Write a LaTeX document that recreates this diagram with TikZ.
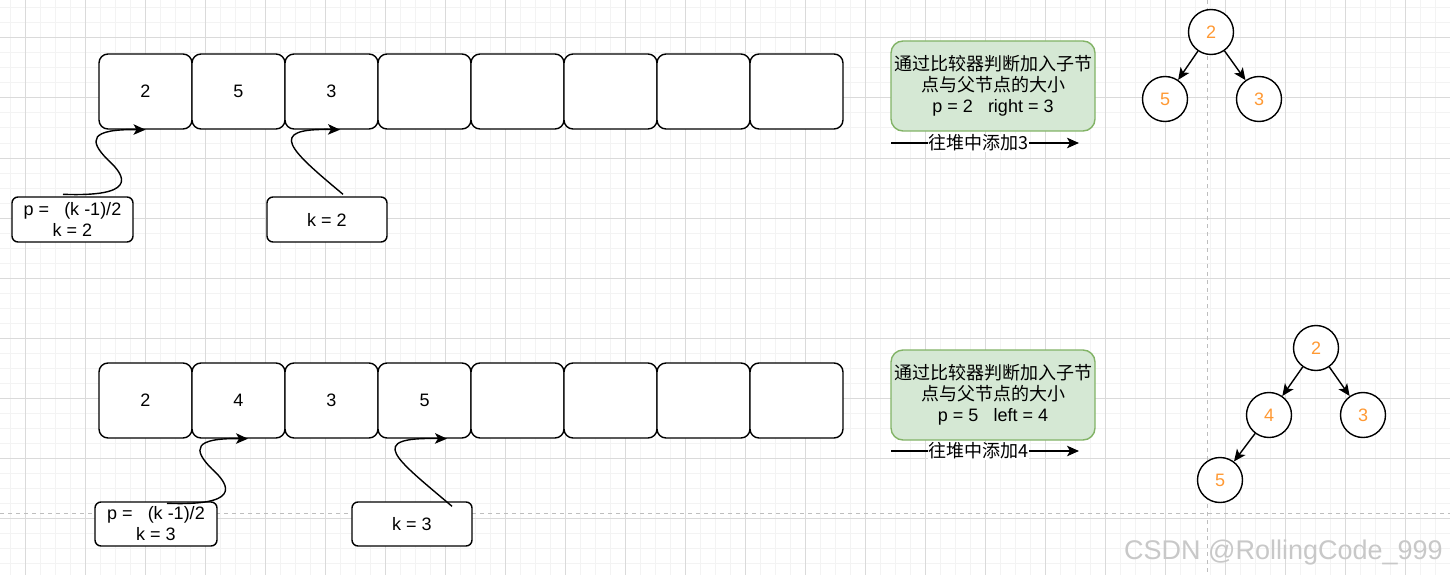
\documentclass[tikz,border=0pt]{standalone}
\usepackage{fontspec}
\setmainfont{Liberation Sans}
\newfontfamily\cjk{Noto Sans CJK SC}
\usetikzlibrary{arrows.meta}
\definecolor{gridminor}{RGB}{243,243,243}
\definecolor{gridmajor}{RGB}{218,218,218}
\definecolor{pagedash}{RGB}{190,190,190}
\definecolor{gfill}{HTML}{D5E8D4}
\definecolor{gdraw}{HTML}{82B366}
\definecolor{numorange}{RGB}{255,153,51}
\definecolor{wmgray}{RGB}{200,200,200}
\begin{document}
\begin{tikzpicture}[x=1pt,y=-1pt,
  every node/.style={font=\fontsize{18}{21}\selectfont, inner sep=0pt},
  cell/.style={draw, line width=1.4pt, fill=white, rounded corners=9pt, minimum width=93pt, minimum height=75pt},
  labelbox/.style={draw, line width=1.4pt, fill=white, rounded corners=6pt, align=center},
  notebox/.style={draw=gdraw, line width=1.4pt, fill=gfill, rounded corners=12pt, minimum width=204pt, minimum height=90pt, align=center},
  heapnode/.style={circle, draw, line width=1.4pt, fill=white, minimum size=45pt, text=numorange},
  link/.style={line width=1.4pt, -{Stealth[length=12pt,width=10.5pt,inset=3pt]}},
  treelink/.style={line width=1.4pt, -{Stealth[length=12pt,width=10.5pt,inset=3pt]}},
  minorline/.style={draw=gridminor, line width=1pt},
  majorline/.style={draw=gridmajor, line width=1pt},
  pageline/.style={draw=pagedash, line width=1pt, dash pattern=on 4pt off 4pt},
]
\useasboundingbox (0,0) rectangle (1450,575);
\fill[white] (0,0) rectangle (1450,575);
% grid
\foreach \x in {10,25,...,1445} \draw[minorline] (\x,0) -- (\x,575);
\foreach \y in {8,23,...,575} \draw[minorline] (0,\y) -- (1450,\y);
\foreach \x in {25,85,...,1445} \draw[majorline] (\x,0) -- (\x,575);
\foreach \y in {38,98,...,575} \draw[majorline] (0,\y) -- (1450,\y);
% page break lines
\draw[pageline] (1207,0) -- (1207,575);
\draw[pageline] (0,513) -- (1450,513);

% top array
\foreach \i/\v in {1/2,2/5,3/3,4/,5/,6/,7/,8/}
  \node[cell] (t\i) at ({145.5+93*(\i-1)},91.5) {\v};
% bottom array
\foreach \i/\v in {1/2,2/4,3/3,4/5,5/,6/,7/,8/}
  \node[cell] (b\i) at ({145.5+93*(\i-1)},400.5) {\v};

% label boxes
\node[labelbox, minimum width=121pt, minimum height=45pt] (lp1) at (72.5,219.5) {p =\ \ \ (k -1)/2\\k = 2};
\node[labelbox, minimum width=120pt, minimum height=45pt] (lk1) at (327,219.5) {k = 2};
\node[labelbox, minimum width=122pt, minimum height=44pt] (lp2) at (156,524) {p =\ \ \ (k -1)/2\\k = 3};
\node[labelbox, minimum width=120pt, minimum height=44pt] (lk2) at (412,524) {k = 3};

% curved pointers
\coordinate (s1) at ([xshift=-9.5pt,yshift=2pt]lp1.north);
\draw[link] (s1) .. controls (135,197) and (128,178) .. (108,160)
  .. controls (88,140) and (90,129) .. (t1.south);
\coordinate (s2) at ([xshift=16pt,yshift=2pt]lk1.north);
\draw[link] (s2) .. controls (290,150) and (265,128) .. ([xshift=8.5pt]t3.south);
\coordinate (s3) at ([xshift=11pt,yshift=-2pt]lp2.north);
\draw[link] (s3) .. controls (239,506) and (232,487) .. (212,469)
  .. controls (192,449) and (194,438) .. ([xshift=9.5pt]b2.south);
\coordinate (s4) at ([xshift=40pt,yshift=-5pt]lk2.north);
\draw[link] (s4) .. controls (395,458) and (365,437) .. ([xshift=22.5pt]b4.south);

% notes
\node[notebox] (g1) at (993,86) {{\cjk 通过比较器判断加入子节}\\{\cjk 点与父节点的大小}\\p = 2\ \ \ right = 3};
\node[notebox] (g2) at (993,395) {{\cjk 通过比较器判断加入子节}\\{\cjk 点与父节点的大小}\\p = 5\ \ \ left = 4};
\coordinate (a1s) at (891,143);
\coordinate (a1e) at (1079,143);
\draw[link] (a1s) -- node[fill=white, inner sep=0.5pt, pos=0.465] (a1t) {\cjk 往堆中添加3} (a1e);
\coordinate (a2s) at (891,451);
\coordinate (a2e) at (1079,451);
\draw[link] (a2s) -- node[fill=white, inner sep=0.5pt, pos=0.465] (a2t) {\cjk 往堆中添加4} (a2e);

% heap trees
\node[heapnode] (r1) at (1211,32) {2};
\node[heapnode] (l1) at (1165,99) {5};
\node[heapnode] (rr1) at (1259,99) {3};
\draw[treelink] (r1) -- (l1);
\draw[treelink] (r1) -- (rr1);

\node[heapnode] (r2) at (1316,348) {2};
\node[heapnode] (l2) at (1269,415) {4};
\node[heapnode] (rr2) at (1363,415) {3};
\node[heapnode] (ll2) at (1220,480) {5};
\draw[treelink] (r2) -- (l2);
\draw[treelink] (r2) -- (rr2);
\draw[treelink] (l2) -- (ll2);

% watermark
\node[anchor=base west, text=wmgray, font=\fontsize{27}{30}\selectfont] (wm) at (1124,559) {CSDN @RollingCode\_999};
\end{tikzpicture}
\end{document}
